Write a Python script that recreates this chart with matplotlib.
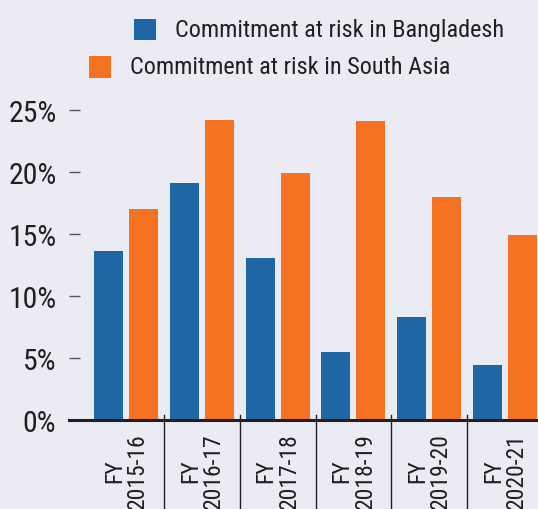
import matplotlib
matplotlib.use("Agg")
import matplotlib.pyplot as plt
from matplotlib import font_manager
from matplotlib.patches import Rectangle
import matplotlib.transforms as mtransforms
import numpy as np

categories = ["FY\n2015-16", "FY\n2016-17", "FY\n2017-18", "FY\n2018-19", "FY\n2019-20", "FY\n2020-21"]
bangladesh = [13.6, 19.1, 13.1, 5.5, 8.3, 4.4]
south_asia = [17.0, 24.2, 19.9, 24.1, 18.0, 14.9]
yticks = [0, 5, 10, 15, 20, 25]
ytick_labels = ["0%", "5%", "10%", "15%", "20%", "25%"]
series_names = ["Commitment at risk in Bangladesh", "Commitment at risk in South Asia"]

names = {f.name for f in font_manager.fontManager.ttflist}
fam = None
for cand in ["Liberation Sans Narrow", "DejaVu Sans Condensed", "Roboto Condensed", "Open Sans Condensed", "Liberation Sans"]:
    if cand in names:
        fam = cand
        break
if fam is None:
    fam = "DejaVu Sans"
plt.rcParams['font.family'] = [fam, 'DejaVu Sans']

BG = "#ebebf4"
BLUE = "#1f66a5"
ORANGE = "#f47222"
TXT = "#231f20"

W, H = 538, 510
fig = plt.figure(figsize=(W / 100, H / 100), dpi=100, facecolor=BG)

px_per = 12.4
ymax = 26
ax_left, ax_bottom_px = 69, 421
ax_h = ymax * px_per
ax = fig.add_axes([ax_left / W, (H - ax_bottom_px) / H, (W - ax_left) / W, ax_h / H])
ax.set_facecolor(BG)

spacing = 75.8
x = np.arange(len(categories))
bw = 29 / spacing
off = 17.5 / spacing
ax.bar(x - off, bangladesh, width=bw, color=BLUE, zorder=2)
ax.bar(x + off, south_asia, width=bw, color=ORANGE, zorder=2)

ax.set_xlim((ax_left - 126) / spacing, (W - 126) / spacing)
ax.set_ylim(0, ymax)

for s in ["top", "right", "left"]:
    ax.spines[s].set_visible(False)
ax.spines["bottom"].set_linewidth(2.2)
ax.spines["bottom"].set_color(TXT)
ax.spines["bottom"].set_zorder(3)

ax.set_yticks(yticks)
ax.set_yticklabels(ytick_labels, fontsize=21.5, color=TXT)
ax.tick_params(axis="y", direction="in", length=8, width=1, color="#555555", pad=9)

ax.set_xticks(x)
ax.set_xticklabels(categories, rotation=90, fontsize=17, color=TXT, va="top", ha="center",
                   multialignment="center", linespacing=1.0)
ax.tick_params(axis="x", length=0, pad=9)

trans = mtransforms.blended_transform_factory(ax.transData, ax.transAxes)
for sx in x[:-1] + 0.5:
    ax.plot([sx, sx], [5 / ax_h, -95 / ax_h], transform=trans, color=TXT, lw=1.0,
            clip_on=False, zorder=3)

# legend (manual)
def fx(px):
    return px / W

def fy(py):
    return 1 - py / H

fig.patches.append(Rectangle((fx(134), fy(41)), 22 / W, 21 / H, transform=fig.transFigure,
                             facecolor=BLUE, edgecolor="none"))
fig.text(fx(175), fy(31), series_names[0], fontsize=17.5, color=TXT, va="center", ha="left")
fig.patches.append(Rectangle((fx(89), fy(79)), 22 / W, 22 / H, transform=fig.transFigure,
                             facecolor=ORANGE, edgecolor="none"))
fig.text(fx(130), fy(68), series_names[1], fontsize=17.5, color=TXT, va="center", ha="left")

fig.savefig("out.png", dpi=100, facecolor=BG)
